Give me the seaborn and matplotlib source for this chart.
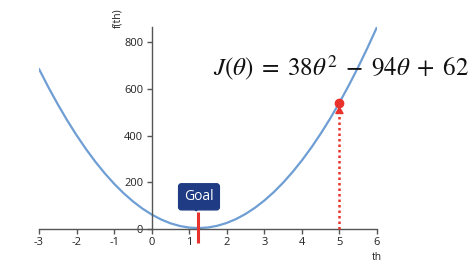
import matplotlib
matplotlib.use("Agg")
import matplotlib.pyplot as plt
import seaborn as sns
import pandas as pd
from matplotlib.patches import Polygon

# ---- data ----
theta = [-3.0, -2.75, -2.5, -2.25, -2.0, -1.75, -1.5, -1.25, -1.0, -0.75, -0.5, -0.25,
         0.0, 0.25, 0.5, 0.75, 1.0, 1.25, 1.5, 1.75, 2.0, 2.25, 2.5, 2.75,
         3.0, 3.25, 3.5, 3.75, 4.0, 4.25, 4.5, 4.75, 5.0, 5.25, 5.5, 5.75, 6.0]
cost = [686.0, 607.9, 534.5, 465.9, 402.0, 342.9, 288.5, 238.9, 194.0, 153.9, 118.5, 87.9,
        62.0, 40.9, 24.5, 12.9, 6.0, 3.9, 6.5, 13.9, 26.0, 42.9, 64.5, 90.9,
        122.0, 157.9, 198.5, 243.9, 294.0, 348.9, 408.5, 472.9, 542.0, 615.9, 694.5, 777.9, 866.0]
x_ticks = [-3, -2, -1, 0, 1, 2, 3, 4, 5, 6]
y_ticks = [0, 200, 400, 600, 800]
goal_x = 1.24
start_x = 5.0
start_y = 542.0
formula = r"$J(\theta)\;=\;38\theta^2\;-\;94\theta\;+\;62$"

df = pd.DataFrame({"th": theta, "f(th)": cost})

sns.set_theme(style="white")
plt.rcParams["font.family"] = ["Open Sans", "DejaVu Sans"]
plt.rcParams["mathtext.fontset"] = "stix"
plt.rcParams["axes.unicode_minus"] = False

W, H = 474, 265
fig = plt.figure(figsize=(W / 100, H / 100), dpi=100)
ax = fig.add_axes([39 / W, 36 / H, (377 - 39) / W, (229 - 27) / H])

sns.lineplot(data=df, x="th", y="f(th)", ax=ax, color="#6e9ed4", linewidth=1.6)

ax.set_xlim(-3, 6)
ax.set_ylim(0, 866)
ax.set_xticks(x_ticks)
ax.set_yticks(y_ticks)
ax.spines["left"].set_position(("data", 0))
ax.spines["top"].set_visible(False)
ax.spines["right"].set_visible(False)
for s in ("left", "bottom"):
    ax.spines[s].set_color("#555555")
    ax.spines[s].set_linewidth(1.0)
ax.tick_params(axis="both", which="major", direction="out", length=3.5, width=1.0,
               color="#555555", labelsize=8, labelcolor="#222222", pad=2.5,
               bottom=True, left=True)
ax.set_xlabel("")
ax.set_ylabel("")
ax.grid(False)

# axis titles
fig.text(377 / W, 1 - 257 / H, "th", ha="center", va="center", fontsize=7.5, color="#222222")
fig.text(118 / W, 1 - 18 / H, "f(th)", ha="center", va="center", fontsize=7.5,
         rotation=90, color="#222222")

# goal marker
red = "#e8322b"
ax.plot([goal_x, goal_x], [-58, 72], color=red, linewidth=2.2, clip_on=False,
        solid_capstyle="butt", zorder=4)
navy = "#1f3b84"
ax.text(goal_x + 0.02, 138, "Goal", ha="center", va="center", fontsize=10, color="white",
        zorder=6,
        bbox=dict(boxstyle="round,pad=0.4,rounding_size=0.2", fc=navy, ec=navy))
tail = Polygon([[goal_x - 0.2, 100], [goal_x + 0.05, 100], [goal_x - 0.05, 78]],
               closed=True, fc=navy, ec=navy, zorder=5, clip_on=False)
ax.add_patch(tail)

# start point with dotted arrow
ax.plot([start_x, start_x], [0, start_y - 25], color=red, linewidth=1.8,
        linestyle=(0, (1, 1.2)), clip_on=False, zorder=4)
ax.annotate("", xy=(start_x, start_y - 14), xytext=(start_x, start_y - 40),
            arrowprops=dict(arrowstyle="-|>,head_length=0.35,head_width=0.2",
                            color=red, lw=1.2, shrinkA=0, shrinkB=0), zorder=5)
ax.plot([start_x], [start_y], marker="o", markersize=6, color=red, zorder=6,
        clip_on=False)

fig.text(213 / W, 1 - 68 / H, formula, ha="left", va="center", fontsize=18,
         color="#111111")

fig.savefig("out.png", dpi=100)
